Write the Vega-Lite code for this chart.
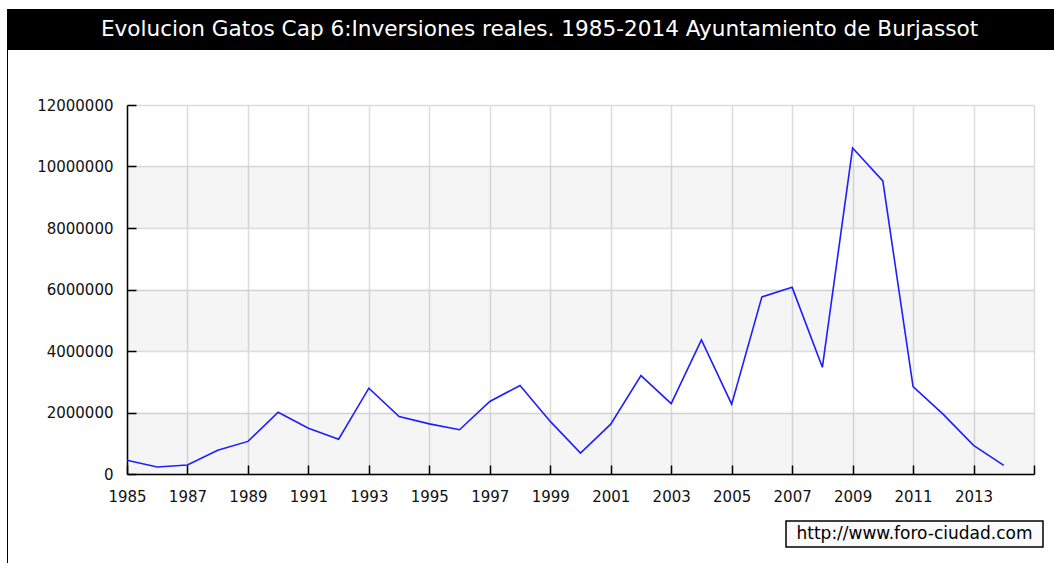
{
  "$schema": "https://vega.github.io/schema/vega-lite/v6.json",
  "padding": {"left": 7, "top": 9, "right": 0, "bottom": 0},
  "background": "white",
  "config": {"view": {"stroke": null}, "font": "DejaVu Sans"},
  "spacing": 0,
  "vconcat": [
    {
      "width": 1047,
      "height": 41,
      "view": {"fill": "black", "stroke": null},
      "data": {"values": [{"title": "Evolucion Gatos Cap 6:Inversiones reales. 1985-2014 Ayuntamiento de Burjassot"}]},
      "mark": {"type": "text", "color": "white", "fontSize": 21.6, "font": "DejaVu Sans", "dx": 9},
      "encoding": {"text": {"field": "title"}}
    },
    {
      "spacing": 28,
      "hconcat": [
        {
          "width": 1,
          "height": 513,
          "view": {"fill": "black", "stroke": null},
          "data": {"values": [{"t": ""}]},
          "mark": {"type": "text"},
          "encoding": {"text": {"field": "t"}}
        },
        {
          "spacing": 11,
          "vconcat": [
            {
              "width": 1,
              "height": 37,
              "data": {"values": [{"t": ""}]},
              "mark": {"type": "text"},
              "encoding": {"text": {"field": "t"}}
            },
            {
              "width": 907,
              "height": 369,
              "layer": [
                {
                  "data": {"values": [
                    {"lo": 0, "hi": 2000000},
                    {"lo": 4000000, "hi": 6000000},
                    {"lo": 8000000, "hi": 10000000}
                  ]},
                  "mark": {"type": "rect", "fill": "black", "opacity": 0.04},
                  "encoding": {
                    "x": {"datum": 1985, "type": "quantitative"},
                    "x2": {"datum": 2015},
                    "y": {"field": "lo", "type": "quantitative"},
                    "y2": {"field": "hi"}
                  }
                },
                {
                  "data": {"values": [
                    {"year": 1985, "value": 450000},
                    {"year": 1986, "value": 230000},
                    {"year": 1987, "value": 290000},
                    {"year": 1988, "value": 770000},
                    {"year": 1989, "value": 1060000},
                    {"year": 1990, "value": 2010000},
                    {"year": 1991, "value": 1490000},
                    {"year": 1992, "value": 1130000},
                    {"year": 1993, "value": 2790000},
                    {"year": 1994, "value": 1870000},
                    {"year": 1995, "value": 1630000},
                    {"year": 1996, "value": 1440000},
                    {"year": 1997, "value": 2360000},
                    {"year": 1998, "value": 2880000},
                    {"year": 1999, "value": 1710000},
                    {"year": 2000, "value": 680000},
                    {"year": 2001, "value": 1620000},
                    {"year": 2002, "value": 3200000},
                    {"year": 2003, "value": 2290000},
                    {"year": 2004, "value": 4360000},
                    {"year": 2005, "value": 2270000},
                    {"year": 2006, "value": 5760000},
                    {"year": 2007, "value": 6070000},
                    {"year": 2008, "value": 3470000},
                    {"year": 2009, "value": 10600000},
                    {"year": 2010, "value": 9530000},
                    {"year": 2011, "value": 2840000},
                    {"year": 2012, "value": 1940000},
                    {"year": 2013, "value": 930000},
                    {"year": 2014, "value": 280000}
                  ]},
                  "mark": {"type": "line", "color": "#1e1eff", "strokeWidth": 1.6},
                  "encoding": {
                    "x": {
                      "field": "year", "type": "quantitative",
                      "scale": {"domain": [1985, 2015], "nice": false, "zero": false},
                      "axis": {
                        "title": null,
                        "values": [1985, 1987, 1989, 1991, 1993, 1995, 1997, 1999, 2001, 2003, 2005, 2007, 2009, 2011, 2013, 2015],
                        "format": "d",
                        "labelExpr": "datum.value == 2015 ? '' : datum.label",
                        "labelFlush": false,
                        "labelOverlap": false,
                        "labelFont": "DejaVu Sans",
                        "labelFontSize": 15,
                        "labelColor": "#111",
                        "tickSize": -9,
                        "tickColor": "black",
                        "tickWidth": 1.5,
                        "labelPadding": 24,
                        "domainColor": "black",
                        "domainWidth": 1.5,
                        "grid": true,
                        "gridColor": "#dcdcdc",
                        "gridWidth": 1.5
                      }
                    },
                    "y": {
                      "field": "value", "type": "quantitative",
                      "scale": {"domain": [0, 12000000], "nice": false},
                      "axis": {
                        "title": null,
                        "values": [0, 1000000, 2000000, 3000000, 4000000, 5000000, 6000000, 7000000, 8000000, 9000000, 10000000, 11000000, 12000000],
                        "format": "d",
                        "labelExpr": "datum.value % 2000000 == 0 ? datum.label : ''",
                        "labelOverlap": false,
                        "labelFont": "DejaVu Sans",
                        "labelFontSize": 15,
                        "labelColor": "#111",
                        "tickSize": -9,
                        "tickColor": "black",
                        "tickWidth": 1.5,
                        "labelPadding": 23,
                        "domainColor": "black",
                        "domainWidth": 1.5,
                        "grid": true,
                        "gridColor": "#dcdcdc",
                        "gridWidth": 1.5,
                        "gridOpacity": {"condition": {"test": "datum.value % 2000000 == 0", "value": 1}, "value": 0}
                      }
                    }
                  }
                }
              ]
            },
            {
              "spacing": 0,
              "hconcat": [
                {
                  "width": 658,
                  "height": 1,
                  "data": {"values": [{"t": ""}]},
                  "mark": {"type": "text"},
                  "encoding": {"text": {"field": "t"}}
                },
                {
                  "width": 257,
                  "height": 26,
                  "view": {"fill": "#fafafa", "stroke": "black", "strokeWidth": 1.5},
                  "data": {"values": [{"url": "http://www.foro-ciudad.com"}]},
                  "mark": {"type": "text", "fontSize": 17, "color": "black", "font": "DejaVu Sans"},
                  "encoding": {"text": {"field": "url"}}
                }
              ]
            }
          ]
        }
      ]
    }
  ]
}
